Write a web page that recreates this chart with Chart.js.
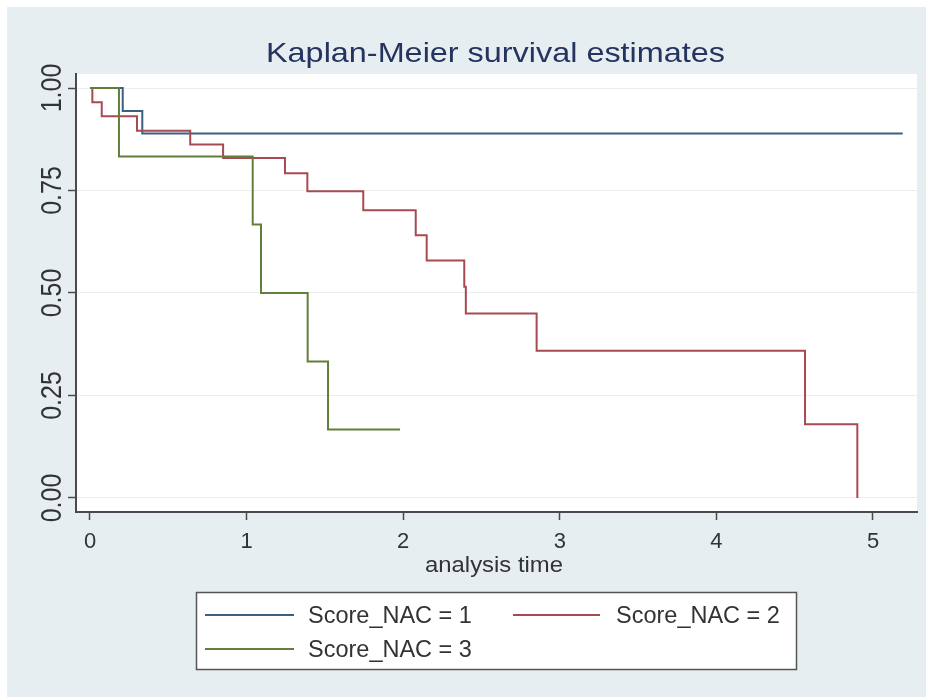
<!DOCTYPE html>
<html><head><meta charset="utf-8">
<script src="https://cdn.jsdelivr.net/npm/chart.js@4/dist/chart.umd.min.js"></script>
<style>html,body{margin:0;padding:0;background:#fff;} canvas{display:block;}</style>
</head><body>
<canvas id="c" width="926" height="697"></canvas>
<script>
// ---- data ----
const chartTitle = "Kaplan-Meier survival estimates";
const xAxisTitle = "analysis time";
const seriesNames = ["Score_NAC = 1", "Score_NAC = 2", "Score_NAC = 3"];
const xTicks = [0, 1, 2, 3, 4, 5];
const yTicks = [0, 0.25, 0.5, 0.75, 1];
const yTickLabels = ["0.00", "0.25", "0.50", "0.75", "1.00"];

const nac1Time = [0, 0.209, 0.334, 5.19];
const nac1Surv = [1, 0.944, 0.889, 0.889];

const nac2Time = [0, 0.015, 0.075, 0.30, 0.64, 0.85, 1.245, 1.388, 1.745, 2.08, 2.15, 2.39, 2.40, 2.852, 4.566, 4.90];
const nac2Surv = [1, 0.965, 0.931, 0.896, 0.862, 0.829, 0.792, 0.748, 0.702, 0.641, 0.579, 0.515, 0.45, 0.359, 0.18, 0];

const nac3Time = [0, 0.185, 1.039, 1.092, 1.39, 1.52, 1.98];
const nac3Surv = [1, 0.833, 0.667, 0.5, 0.333, 0.167, 0.167];

const seriesColors = ["#3d5f82", "#a84a52", "#607f3c"];

// ---- build ----
const FONT = "'Liberation Sans', Arial, Helvetica, sans-serif";
function pts(t, s) { return t.map((v, i) => ({ x: v, y: s[i] })); }

function drawFitted(ctx, text, x, baseline, size, targetW, align, color) {
  ctx.save();
  ctx.font = size + "px " + FONT;
  const w = ctx.measureText(text).width;
  ctx.translate(x, baseline);
  ctx.scale(targetW / w, 1);
  ctx.textAlign = align;
  ctx.textBaseline = "alphabetic";
  ctx.fillStyle = color;
  ctx.fillText(text, 0, 0);
  ctx.restore();
}

const decor = {
  id: "decor",
  beforeDraw(chart) {
    const ctx = chart.ctx, a = chart.chartArea;
    ctx.save();
    ctx.fillStyle = "#ffffff";
    ctx.fillRect(0, 0, chart.width, chart.height);
    ctx.fillStyle = "#e7eef2";
    ctx.fillRect(7, 7, chart.width - 7, chart.height - 7);
    ctx.fillStyle = "#ffffff";
    ctx.fillRect(a.left, a.top, a.right - a.left, a.bottom - a.top);
    ctx.restore();
  },
  afterDraw(chart) {
    const ctx = chart.ctx;
    const ys = chart.scales.y;
    // title
    drawFitted(ctx, chartTitle, 495.5, 62, 28, 459, "center", "#25345e");
    // x axis title
    drawFitted(ctx, xAxisTitle, 494, 572, 22, 138, "center", "#333333");
    // y tick labels (rotated)
    const fs = 25;
    yTicks.forEach((v, i) => {
      const py = ys.getPixelForValue(v);
      ctx.save();
      ctx.translate(50, py);
      ctx.scale(1.2, 1);
      ctx.rotate(-Math.PI / 2);
      ctx.font = fs + "px " + FONT;
      ctx.textAlign = "center";
      ctx.textBaseline = "alphabetic";
      ctx.fillStyle = "#333333";
      ctx.fillText(yTickLabels[i], 0, 0.358 * fs);
      ctx.restore();
    });
    // legend
    ctx.save();
    ctx.fillStyle = "#ffffff";
    ctx.fillRect(196, 592, 601, 77);
    ctx.strokeStyle = "#555555";
    ctx.lineWidth = 1.5;
    ctx.strokeRect(196.5, 592.5, 600, 77);
    const slots = [
      { x0: 205, x1: 294, tx: 308, y: 615 },
      { x0: 513, x1: 600, tx: 616, y: 615 },
      { x0: 205, x1: 294, tx: 308, y: 649 }
    ];
    const lfs = 23.5;
    chart.data.datasets.forEach((ds, i) => {
      const s = slots[i];
      ctx.strokeStyle = ds.borderColor;
      ctx.lineWidth = 2;
      ctx.beginPath();
      ctx.moveTo(s.x0, s.y);
      ctx.lineTo(s.x1, s.y);
      ctx.stroke();
      ctx.font = lfs + "px " + FONT;
      ctx.fillStyle = "#333333";
      ctx.textAlign = "left";
      ctx.textBaseline = "alphabetic";
      ctx.fillText(ds.label, s.tx, s.y + 0.358 * lfs);
    });
    ctx.restore();
  }
};

const datasets = [
  { label: seriesNames[0], data: pts(nac1Time, nac1Surv), order: 2 },
  { label: seriesNames[1], data: pts(nac2Time, nac2Surv), order: 1 },
  { label: seriesNames[2], data: pts(nac3Time, nac3Surv), order: 0 }
].map((d, i) => Object.assign(d, {
  borderColor: seriesColors[i],
  backgroundColor: seriesColors[i],
  borderWidth: 2,
  stepped: true,
  pointRadius: 0,
  fill: false,
  tension: 0
}));

new Chart(document.getElementById("c"), {
  type: "line",
  data: { datasets },
  plugins: [decor],
  options: {
    responsive: false,
    animation: false,
    devicePixelRatio: 1,
    layout: { padding: { left: 0, right: 9, top: 74, bottom: 0 } },
    plugins: { legend: { display: false }, tooltip: { enabled: false }, title: { display: false } },
    scales: {
      x: {
        type: "linear",
        min: -0.0894,
        max: 5.281,
        afterBuildTicks: s => { s.ticks = xTicks.map(v => ({ value: v })); },
        afterFit: s => { s.height = 185; },
        ticks: { font: { size: 22, family: FONT }, color: "#333333", padding: 9, maxRotation: 0, autoSkip: false,
                 callback: v => String(v) },
        grid: { drawOnChartArea: false, drawTicks: true, tickLength: 8, tickColor: "#4a4a4a", tickWidth: 1.5 },
        border: { display: true, color: "#4a4a4a", width: 2 }
      },
      y: {
        type: "linear",
        min: -0.03415,
        max: 1.03415,
        afterBuildTicks: s => { s.ticks = yTicks.map(v => ({ value: v })); },
        afterFit: s => { s.width = 76; },
        ticks: { display: false },
        grid: { drawOnChartArea: true, color: "#e8eef2", lineWidth: 1, drawTicks: true, tickLength: 8, tickColor: "#4a4a4a", tickWidth: 1.5 },
        border: { display: true, color: "#4a4a4a", width: 2 }
      }
    }
  }
});
</script>
</body></html>
